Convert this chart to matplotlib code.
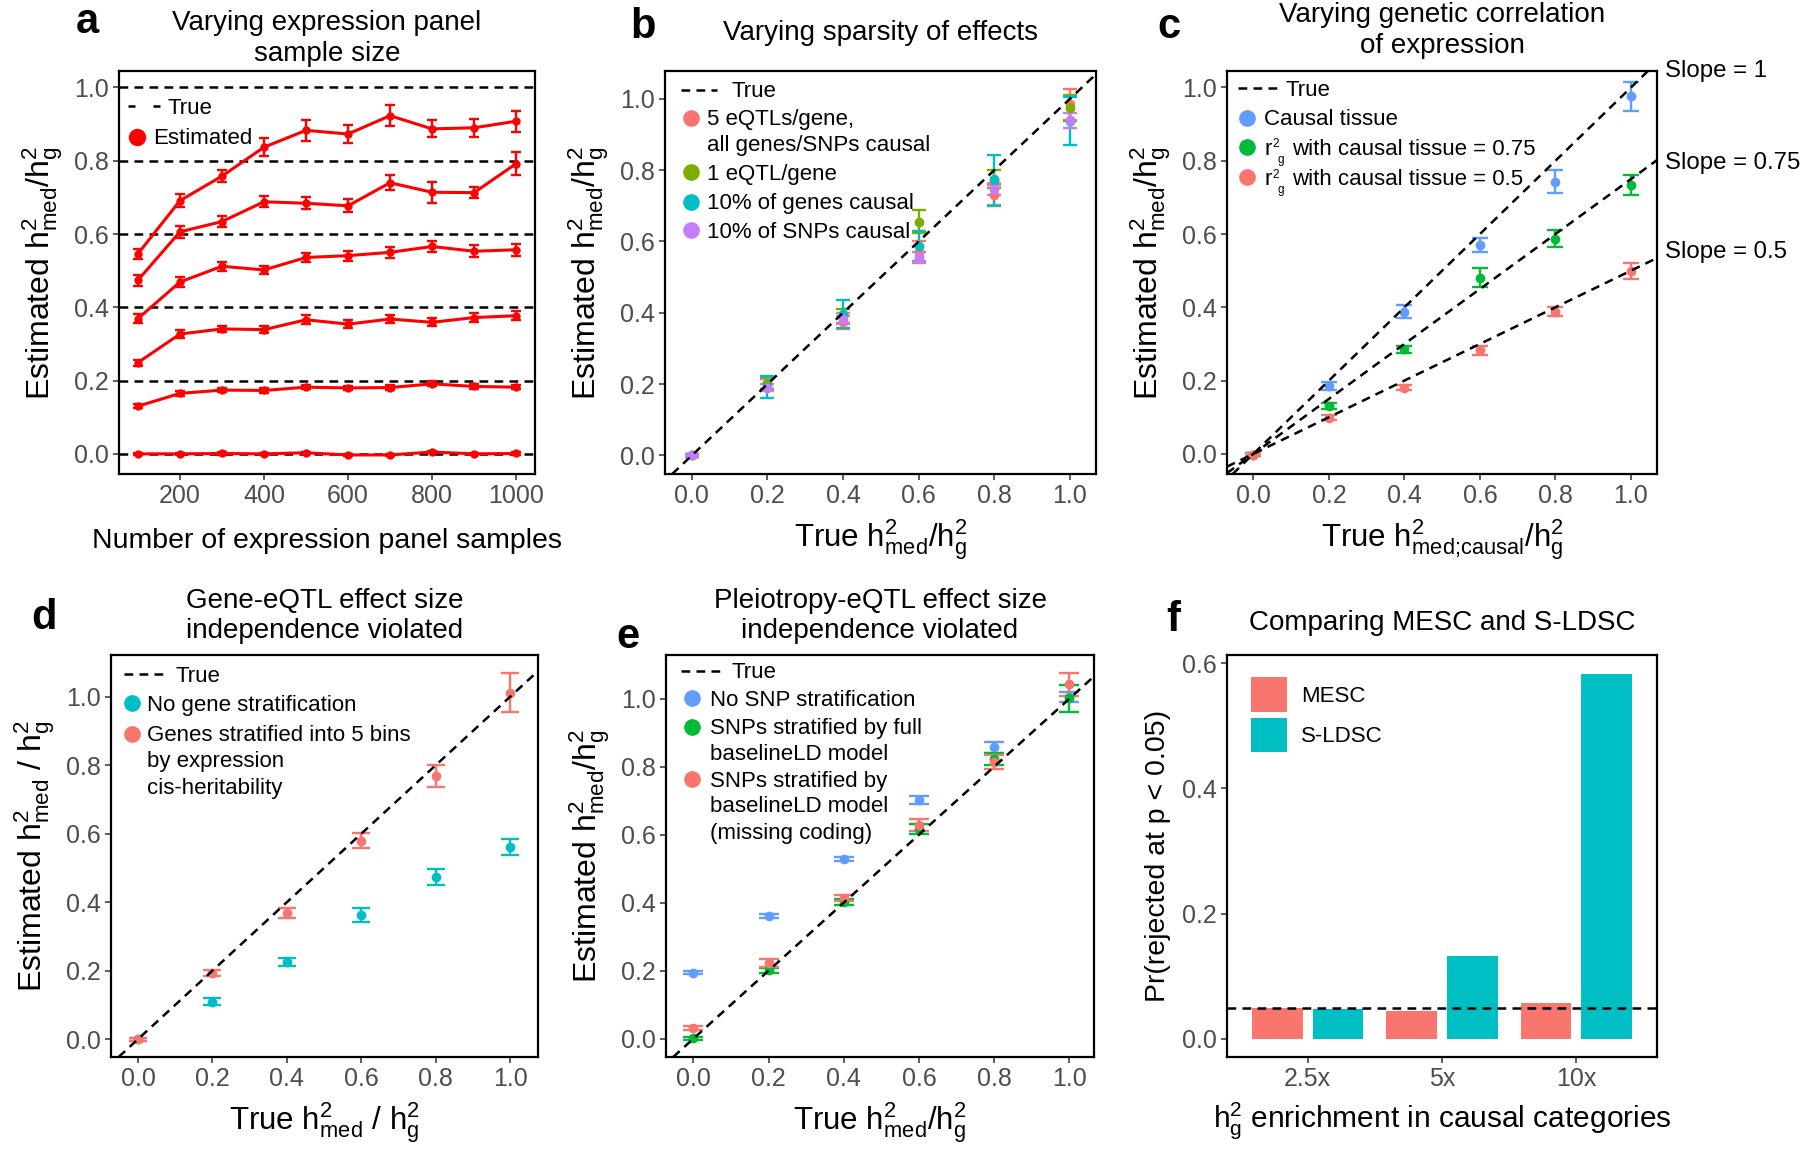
import numpy as np
import matplotlib
matplotlib.use('Agg')
import matplotlib.pyplot as plt
from matplotlib.lines import Line2D
from matplotlib.patches import Rectangle
from matplotlib.ticker import FormatStrFormatter

plt.rcParams['font.family'] = ['Liberation Sans', 'DejaVu Sans']
plt.rcParams['mathtext.fontset'] = 'custom'
plt.rcParams['mathtext.rm'] = 'Liberation Sans'
plt.rcParams['mathtext.it'] = 'Liberation Sans:italic'
plt.rcParams['mathtext.bf'] = 'Liberation Sans:bold'

RED = '#F8766D'
GREEN4 = '#7CAE00'
TEAL = '#00BFC4'
PURPLE = '#C77CFF'
GREEN3 = '#00BA38'
BLUE = '#619CFF'

# ---- panel a: expression panel sample size
n_samples = [100, 200, 300, 400, 500, 600, 700, 800, 900, 1000]
true_levels = [0.0, 0.2, 0.4, 0.6, 0.8, 1.0]
a_est_00 = [0.0, 0.0, 0.001, 0.0, 0.003, -0.003, -0.003, 0.005, 0.0, 0.001]
a_err_00 = [0.003, 0.003, 0.003, 0.003, 0.003, 0.003, 0.003, 0.003, 0.003, 0.003]
a_est_02 = [0.130, 0.165, 0.174, 0.173, 0.182, 0.180, 0.181, 0.191, 0.184, 0.182]
a_err_02 = [0.005, 0.006, 0.006, 0.006, 0.006, 0.006, 0.006, 0.007, 0.006, 0.006]
a_est_04 = [0.249, 0.327, 0.341, 0.339, 0.366, 0.354, 0.368, 0.359, 0.372, 0.377]
a_err_04 = [0.008, 0.010, 0.009, 0.010, 0.012, 0.010, 0.011, 0.011, 0.012, 0.013]
a_est_06 = [0.369, 0.469, 0.512, 0.502, 0.536, 0.541, 0.550, 0.566, 0.553, 0.557]
a_err_06 = [0.013, 0.013, 0.012, 0.012, 0.013, 0.014, 0.015, 0.016, 0.016, 0.016]
a_est_08 = [0.474, 0.606, 0.634, 0.688, 0.684, 0.677, 0.740, 0.714, 0.713, 0.792]
a_err_08 = [0.015, 0.016, 0.014, 0.015, 0.016, 0.018, 0.021, 0.028, 0.016, 0.032]
a_est_10 = [0.546, 0.691, 0.758, 0.837, 0.883, 0.873, 0.923, 0.887, 0.890, 0.908]
a_err_10 = [0.013, 0.017, 0.017, 0.025, 0.029, 0.024, 0.028, 0.023, 0.025, 0.029]

# ---- shared x for b-e
true_ratio = [0.0, 0.2, 0.4, 0.6, 0.8, 1.0]

# ---- panel b: sparsity
b_labels = [['5 eQTLs/gene,', 'all genes/SNPs causal'], ['1 eQTL/gene'],
            ['10% of genes causal'], ['10% of SNPs causal']]
b_est_5eqtl = [0.0, 0.200, 0.373, 0.570, 0.730, 0.985]
b_err_5eqtl = [0.005, 0.013, 0.018, 0.030, 0.027, 0.043]
b_est_1eqtl = [0.0, 0.203, 0.390, 0.656, 0.775, 0.974]
b_err_1eqtl = [0.005, 0.018, 0.020, 0.033, 0.026, 0.037]
b_est_genes = [0.0, 0.191, 0.396, 0.586, 0.771, 0.938]
b_err_genes = [0.005, 0.031, 0.040, 0.042, 0.071, 0.067]
b_est_snps = [0.0, 0.190, 0.384, 0.556, 0.748, 0.940]
b_err_snps = [0.004, 0.010, 0.016, 0.014, 0.017, 0.021]

# ---- panel c: genetic correlation
c_slopes = [1, 0.75, 0.5]
c_first_label = 'Causal tissue'
c_rg_labels = ['with causal tissue = 0.75', 'with causal tissue = 0.5']
c_est_causal = [-0.003, 0.185, 0.388, 0.569, 0.743, 0.976]
c_err_causal = [0.004, 0.010, 0.017, 0.019, 0.031, 0.039]
c_est_r075 = [-0.002, 0.131, 0.285, 0.481, 0.587, 0.734]
c_err_r075 = [0.003, 0.008, 0.010, 0.025, 0.023, 0.027]
c_est_r05 = [-0.002, 0.099, 0.181, 0.283, 0.388, 0.499]
c_err_r05 = [0.003, 0.006, 0.007, 0.012, 0.012, 0.021]

# ---- panel d: gene-eQTL independence
d_labels = [['No gene stratification'],
            ['Genes stratified into 5 bins', 'by expression', 'cis-heritability']]
d_est_nostrat = [0.0, 0.110, 0.225, 0.363, 0.473, 0.562]
d_err_nostrat = [0.004, 0.010, 0.012, 0.020, 0.023, 0.024]
d_est_strat = [0.0, 0.193, 0.368, 0.580, 0.769, 1.012]
d_err_strat = [0.004, 0.008, 0.015, 0.021, 0.033, 0.057]

# ---- panel e: pleiotropy-eQTL independence
e_labels = [['No SNP stratification'], ['SNPs stratified by full', 'baselineLD model'],
            ['SNPs stratified by', 'baselineLD model', '(missing coding)']]
e_est_nostrat = [0.194, 0.361, 0.529, 0.702, 0.857, 1.005]
e_err_nostrat = [0.004, 0.005, 0.007, 0.012, 0.015, 0.014]
e_est_full = [0.001, 0.201, 0.402, 0.617, 0.823, 1.002]
e_err_full = [0.005, 0.008, 0.008, 0.015, 0.019, 0.040]
e_est_miss = [0.031, 0.222, 0.413, 0.629, 0.815, 1.043]
e_err_miss = [0.005, 0.011, 0.009, 0.017, 0.021, 0.034]

# ---- panel f: MESC vs S-LDSC
f_cats = ['2.5x', '5x', '10x']
f_methods = ['MESC', 'S-LDSC']
f_mesc = [0.049, 0.044, 0.057]
f_sldsc = [0.048, 0.133, 0.583]

TICK_FS = 18
YLAB_FS = 23
XLAB_FS = 22.5
TITLE_FS = 20
LEG_FS = 16
LET_FS = 30
DASH = (3.5, 2.5)
BASE = 7.5  # px from visual line centre to baseline

YLAB = 'Estimated $\\mathregular{h^2_{med}/h^2_g}$'
XLAB = 'True $\\mathregular{h^2_{med}/h^2_g}$'

fig = plt.figure(figsize=(18, 11.52), dpi=100)
W, H = 1800.0, 1152.0


def fx(x):
    return x / W


def fy(y):
    return 1 - y / H


def make_ax(x0, x1, y0, y1):
    return fig.add_axes([x0 / W, 1 - y1 / H, (x1 - x0) / W, (y1 - y0) / H])


def style(ax):
    for s in ax.spines.values():
        s.set_linewidth(1.6)
        s.set_color('black')
    ax.tick_params(direction='out', length=4.5, width=1.1, color='#333333',
                   labelcolor='#4D4D4D', labelsize=TICK_FS, pad=3)


def est_points(ax, x, y, e, color, cap=5.3, ms=6):
    ax.errorbar(x, y, yerr=e, fmt='o', color=color, ms=ms, elinewidth=1.7,
                capsize=cap, capthick=1.7, zorder=3)


# legend keys are placed in figure pixels (y measured from the top)
def leg_text(x, y, s, size=LEG_FS):
    fig.text(fx(x), fy(y), s, fontsize=size, ha='left', va='baseline')


def leg_true(x0, x1, y, tx, dashes=DASH):
    fig.add_artist(Line2D([fx(x0), fx(x1)], [fy(y), fy(y)], transform=fig.transFigure,
                          color='black', ls='--', lw=1.8, dashes=dashes))
    leg_text(tx, y + BASE, 'True')


def leg_dots(cx, tx, ys, colors, labels, pitch, ms=11):
    for y, col, lines in zip(ys, colors, labels):
        fig.add_artist(Line2D([fx(cx)], [fy(y)], transform=fig.transFigure, color=col,
                              marker='o', ls='', ms=ms))
        for k, s in enumerate(lines):
            leg_text(tx, y + BASE + k * pitch, s)


def rg_label(tx, y, rest):
    b = y + BASE
    leg_text(tx, b, 'r')
    leg_text(tx + 8.6, b - 7.3, '2', size=8.5)
    leg_text(tx + 13.8, b + 8.5, 'g', size=8.5)
    leg_text(tx + 27.8, b, rest)


def ratio_axes(ax, xlim, ylim):
    ax.set_xlim(*xlim)
    ax.set_ylim(*ylim)
    ax.set_xticks(true_ratio)
    ax.set_yticks([0.0, 0.2, 0.4, 0.6, 0.8, 1.0])
    ax.xaxis.set_major_formatter(FormatStrFormatter('%.1f'))
    ax.yaxis.set_major_formatter(FormatStrFormatter('%.1f'))


def letter(x, y, s):
    fig.text(fx(x), fy(y), s, fontsize=LET_FS, fontweight='bold', ha='center', va='center')


# ================= a
ax = make_ax(119, 535, 71, 474)
style(ax)
for t in true_levels:
    ax.axhline(t, color='black', ls='--', lw=1.8, dashes=DASH, zorder=1)
for est, err in [(a_est_00, a_err_00), (a_est_02, a_err_02), (a_est_04, a_err_04),
                 (a_est_06, a_err_06), (a_est_08, a_err_08), (a_est_10, a_err_10)]:
    ax.errorbar(n_samples, est, yerr=err, fmt='-o', color='#FF0000', lw=2.2, ms=5,
                elinewidth=1.7, capsize=3.3, capthick=1.7, zorder=3)
ax.set_xlim(55, 1045)
ax.set_ylim(-0.055, 1.045)
ax.set_xticks([200, 400, 600, 800, 1000])
ax.set_yticks([0.0, 0.2, 0.4, 0.6, 0.8, 1.0])
ax.yaxis.set_major_formatter(FormatStrFormatter('%.1f'))
ax.set_xlabel('Number of expression panel samples', fontsize=20.5, labelpad=14)
ax.set_ylabel(YLAB, fontsize=YLAB_FS, labelpad=6)
ax.set_title('Varying expression panel\nsample size', fontsize=TITLE_FS, pad=7,
             linespacing=1.25)
leg_true(128, 161, 106, 168, dashes=(2.8, 7.2))
leg_dots(137, 153, [136.7], ['#FF0000'], [['Estimated']], 26, ms=11.5)
letter(87, 22, 'a')

# ================= b
ax = make_ax(665, 1096, 71, 474)
style(ax)
b_colors = [RED, GREEN4, TEAL, PURPLE]
for est, err, col in zip([b_est_5eqtl, b_est_1eqtl, b_est_genes, b_est_snps],
                         [b_err_5eqtl, b_err_1eqtl, b_err_genes, b_err_snps], b_colors):
    est_points(ax, true_ratio, est, err, col, cap=5.3)
ax.axline((0, 0), slope=1, color='black', ls='--', lw=1.8, dashes=DASH, zorder=4)
ratio_axes(ax, (-0.071, 1.069), (-0.052, 1.078))
ax.set_xlabel(XLAB, fontsize=XLAB_FS, labelpad=6)
ax.set_ylabel(YLAB, fontsize=YLAB_FS, labelpad=6)
ax.set_title('Varying sparsity of effects', fontsize=TITLE_FS, pad=22)
leg_true(681, 717, 89.5, 732)
leg_dots(690.7, 707, [117.8, 172.3, 201.7, 230.4], b_colors, b_labels, 25.8)
letter(643, 27, 'b')

# ================= c
ax = make_ax(1227, 1657, 71, 474)
style(ax)
c_colors = [BLUE, GREEN3, RED]
for est, err, col in zip([c_est_causal, c_est_r075, c_est_r05],
                         [c_err_causal, c_err_r075, c_err_r05], c_colors):
    est_points(ax, true_ratio, est, err, col, cap=5.6)
for s in c_slopes:
    ax.axline((0, 0), slope=s, color='black', ls='--', lw=1.8, dashes=DASH, zorder=4)
ratio_axes(ax, (-0.070, 1.069), (-0.055, 1.045))
xr = ax.get_xlim()[1]
for s, ty in zip(c_slopes, [1.045, 0.795, 0.55]):
    ax.annotate('Slope = %g' % s, xy=(xr + 0.022, ty), xycoords='data', fontsize=17.3,
                va='center', ha='left', annotation_clip=False)
ax.set_xlabel('True $\\mathregular{h^2_{\\text{med;causal}}/h^2_g}$', fontsize=XLAB_FS, labelpad=6)
ax.set_ylabel(YLAB, fontsize=YLAB_FS, labelpad=6)
ax.set_title('Varying genetic correlation\nof expression', fontsize=TITLE_FS, pad=13,
             linespacing=1.25)
leg_true(1238, 1276.5, 88.4, 1286)
c_rows = [117.8, 147.2, 177.4]
leg_dots(1246.7, 1264, c_rows, c_colors, [[c_first_label], [], []], 26)
for y, rest in zip(c_rows[1:], c_rg_labels):
    rg_label(1264, y, rest)
letter(1169, 27, 'c')

# ================= d
ax = make_ax(111, 538, 655, 1057)
style(ax)
d_colors = [TEAL, RED]
for est, err, col in zip([d_est_nostrat, d_est_strat], [d_err_nostrat, d_err_strat], d_colors):
    est_points(ax, true_ratio, est, err, col, cap=6.6)
ax.axline((0, 0), slope=1, color='black', ls='--', lw=1.8, dashes=DASH, zorder=4)
ratio_axes(ax, (-0.0725, 1.075), (-0.052, 1.122))
ax.set_xlabel('True $\\mathregular{h^2_{med}}$ / $\\mathregular{h^2_g}$', fontsize=XLAB_FS, labelpad=6)
ax.set_ylabel('Estimated $\\mathregular{h^2_{med}}$ / $\\mathregular{h^2_g}$', fontsize=YLAB_FS, labelpad=6)
ax.set_title('Gene-eQTL effect size\nindependence violated', fontsize=TITLE_FS, pad=12,
             linespacing=1.22)
leg_true(124.4, 166.5, 674, 176)
leg_dots(132, 147.3, [703, 733.5], d_colors, d_labels, 26.3)
letter(44, 618, 'd')

# ================= e
ax = make_ax(666, 1094, 655, 1057)
style(ax)
e_colors = [BLUE, GREEN3, RED]
for est, err, col in zip([e_est_nostrat, e_est_full, e_est_miss],
                         [e_err_nostrat, e_err_full, e_err_miss], e_colors):
    est_points(ax, true_ratio, est, err, col, cap=7.0)
ax.axline((0, 0), slope=1, color='black', ls='--', lw=1.8, dashes=DASH, zorder=4)
ratio_axes(ax, (-0.073, 1.066), (-0.054, 1.129))
ax.set_xlabel(XLAB, fontsize=XLAB_FS, labelpad=6)
ax.set_ylabel(YLAB, fontsize=YLAB_FS, labelpad=6)
ax.set_title('Pleiotropy-eQTL effect size\nindependence violated', fontsize=TITLE_FS, pad=12,
             linespacing=1.22)
leg_true(681, 722.5, 670.5, 732)
leg_dots(691.8, 709.8, [698, 726.7, 779], e_colors, e_labels, 26)
letter(628, 637, 'e')

# ================= f
ax = make_ax(1227, 1657, 655, 1057)
style(ax)
xpos = np.arange(1, len(f_cats) + 1)
ax.bar(xpos - 0.226, f_mesc, width=0.376, color=RED, zorder=2)
ax.bar(xpos + 0.226, f_sldsc, width=0.376, color=TEAL, zorder=2)
ax.axhline(0.05, color='black', ls='--', lw=1.8, dashes=DASH, zorder=3)
ax.set_xlim(0.4, 3.6)
ax.set_ylim(-0.029, 0.613)
ax.set_xticks(xpos)
ax.set_xticklabels(f_cats)
ax.set_yticks([0.0, 0.2, 0.4, 0.6])
ax.yaxis.set_major_formatter(FormatStrFormatter('%.1f'))
ax.set_xlabel('$\\mathregular{h^2_g}$ enrichment in causal categories', fontsize=21.5, labelpad=6)
ax.set_ylabel('Pr(rejected at p < 0.05)', fontsize=20.5, labelpad=8)
ax.set_title('Comparing MESC and S-LDSC', fontsize=TITLE_FS, pad=18)
for (y0, y1), col, name in zip([(677, 712), (717.5, 752)], [RED, TEAL], f_methods):
    fig.add_artist(Rectangle((fx(1251), fy(y1)), fx(1286.5) - fx(1251), fy(y0) - fy(y1),
                             transform=fig.transFigure, color=col, lw=0))
    leg_text(1301, (y0 + y1) / 2 + BASE, name)
letter(1173, 620, 'f')

fig.savefig('out.png', dpi=100)
